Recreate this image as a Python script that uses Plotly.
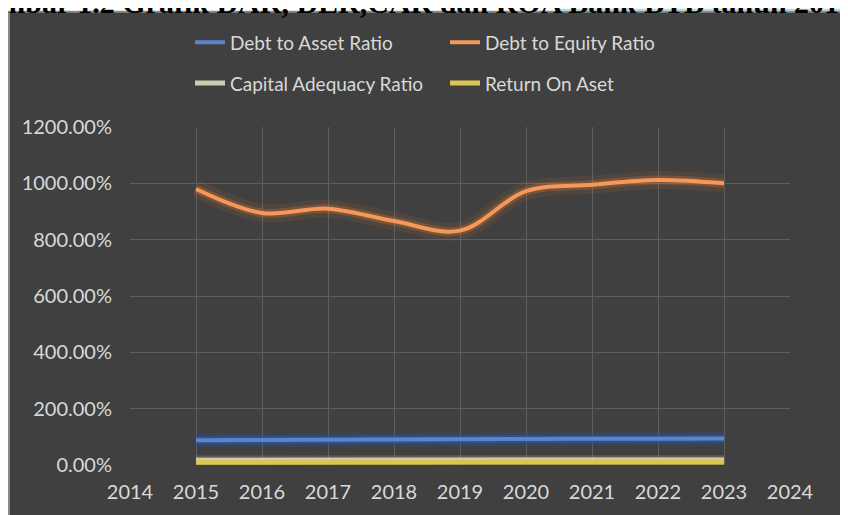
import plotly.graph_objects as go

# data (values in percent)
years = [2015, 2016, 2017, 2018, 2019, 2020, 2021, 2022, 2023]
dar = [88, 89, 92, 93, 93, 93, 93, 93, 94]
der = [980, 895, 910, 866, 832, 972, 995, 1012, 1000]
car = [17, 17, 17, 17, 17, 17, 17, 17, 18]
roa = [10, 10, 10, 10, 10, 10, 10, 10, 11]

y_ticks = [0, 200, 400, 600, 800, 1000, 1200]
y_tick_labels = ["0.00%", "200.00%", "400.00%", "600.00%", "800.00%", "1000.00%", "1200.00%"]
x_ticks = list(range(2014, 2025))

caption = "Gambar 1.2 Grafik DAR, DER,CAR dan ROA Bank BTB tahun 2015"

# page has an 8px body margin, so the figure is drawn 8px in from the corner
OFF = 8
W, H = 840, 507
L, R, T, B = 122, 58, 119, 48


def px(x):
    # reference page pixel -> paper fraction
    return (x - OFF - L) / (W - L - R)


def py(y):
    return (H - B - (y - OFF)) / (H - T - B)


series = [
    ("Debt to Asset Ratio", dar, "#5a84cf", [(14, "rgba(40,80,160,0.30)"), (8, "rgba(50,90,180,0.45)")],
     "linear", "legend", 4),
    ("Debt to Equity Ratio", der, "#f5985a", [(18, "rgba(237,125,49,0.10)"), (9, "rgba(237,125,49,0.25)")],
     "spline", "legend", 4),
    ("Capital Adequacy Ratio", car, "#cfcdb0", [(10, "rgba(165,165,165,0.20)")],
     "linear", "legend2", 5),
    ("Return On Aset", roa, "#dcc553", [(11, "rgba(255,192,0,0.22)")],
     "linear", "legend2", 5),
]

fig = go.Figure()

# soft glow under each line
for name, vals, col, glows, shape, lg, w in series:
    for gw, gc in glows:
        fig.add_trace(go.Scatter(x=years, y=vals, mode="lines", showlegend=False,
                                 hoverinfo="skip",
                                 line=dict(color=gc, width=gw, shape=shape, smoothing=1.0)))

for name, vals, col, glows, shape, lg, w in series:
    fig.add_trace(go.Scatter(x=years, y=vals, mode="lines", name=name, legend=lg,
                             line=dict(color=col, width=w, shape=shape, smoothing=1.0)))

font = dict(family="Lato, sans-serif", size=20, color="#d9d9d9")

fig.update_xaxes(range=[2014, 2024], tickvals=x_ticks, showgrid=True,
                 gridcolor="#5e5e5e", gridwidth=1, zeroline=False, showline=False,
                 tickfont=font, ticklabelstandoff=13)
fig.update_yaxes(range=[0, 1200], tickvals=y_ticks, ticktext=y_tick_labels,
                 showgrid=True, gridcolor="#5e5e5e", gridwidth=1, zeroline=False,
                 showline=False, tickfont=font, ticklabelstandoff=17)

leg = dict(orientation="h", xanchor="left", yanchor="middle", x=px(190),
           bgcolor="rgba(0,0,0,0)", entrywidth=210, entrywidthmode="pixels",
           font=dict(family="Lato, sans-serif", size=19, color="#d9d9d9"))

fig.update_layout(
    width=W, height=H,
    margin=dict(l=L, r=R, t=T, b=B),
    paper_bgcolor="white",
    plot_bgcolor="rgba(0,0,0,0)",
    legend=dict(leg, y=py(42)),
    legend2=dict(leg, y=py(83)),
    shapes=[
        dict(type="rect", xref="paper", yref="paper", layer="below",
             x0=px(560), x1=px(860), y0=py(8), y1=py(10), line_width=0,
             fillcolor="#b0dfe3"),
        dict(type="rect", xref="paper", yref="paper", layer="below",
             x0=px(9), x1=px(870), y0=py(530), y1=py(11),
             fillcolor="#404040", line=dict(color="#8a8a8a", width=2)),
    ],
    annotations=[
        dict(text="<b>" + caption + "</b>", xref="paper", yref="paper",
             x=px(-40), y=py(20), xanchor="left", yanchor="bottom", showarrow=False,
             font=dict(family="Liberation Serif, serif", size=30, color="black")),
    ],
)

fig.write_html("out.html")
